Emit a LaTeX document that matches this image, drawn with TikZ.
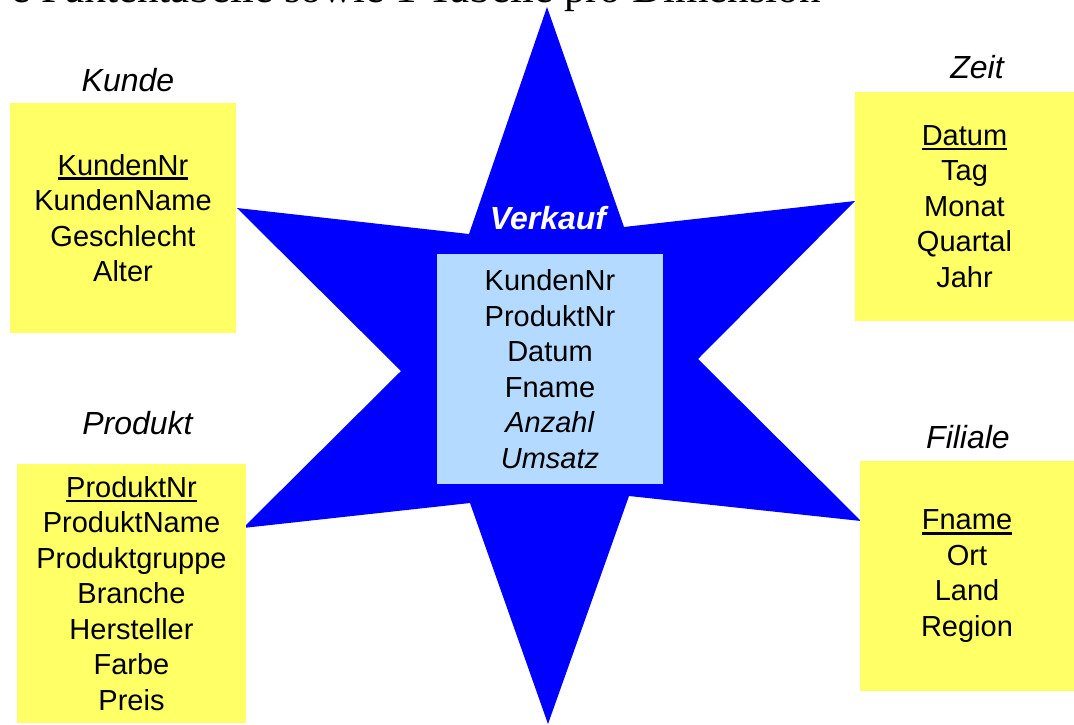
\documentclass[tikz,border=0pt]{standalone}
\usepackage{fontspec}
\setmainfont{Liberation Sans}
\newfontfamily\headserif{Liberation Serif}
\definecolor{starblue}{RGB}{0,0,255}
\definecolor{dimyellow}{RGB}{255,255,102}
\definecolor{factblue}{RGB}{180,218,255}
% key attribute, thick underline
\newcommand{\pkey}[1]{\setbox0\hbox{#1}\rlap{\rule[-5pt]{\wd0}{2.7pt}}\box0}

\begin{document}
\begin{tikzpicture}[x=1pt,y=-1pt,
  dimtab/.style={fill=dimyellow, inner sep=0pt, align=center, font=\fontsize{29}{35.5}\selectfont},
  facttab/.style={dimtab, fill=factblue},
  tabtitle/.style={font=\fontsize{32}{38}\selectfont\itshape}]
\useasboundingbox (0,0) rectangle (1074,724);
\clip (0,0) rectangle (1074,724);
\node[anchor=base east, inner sep=0pt, font=\headserif\fontsize{43}{43}\selectfont] (heading) at (821,2) {e Faktentabelle sowie 1 Tabelle pro Dimension};
% star
\fill[starblue] (547,7) -- (624,227) -- (855,201) -- (698,359) -- (861,521) -- (629,496)
  -- (548,724) -- (470,503) -- (243,528) -- (401,371) -- (237,208) -- (469,234) -- cycle;
\node[facttab, minimum width=226pt, minimum height=230pt] (verkauf) at (550,369)
  {KundenNr\\ProduktNr\\Datum\\Fname\\\textit{Anzahl}\\\textit{Umsatz}};
\node[tabtitle, font=\fontsize{32}{38}\selectfont\bfseries\itshape, text=white] (verkaufT) at (548,218) {Verkauf};
% dimensions
\node[dimtab, minimum width=226pt, minimum height=230pt] (kunde) at (123,218)
  {\pkey{KundenNr}\\KundenName\\Geschlecht\\Alter};
\node[tabtitle] (kundeT) at (128,80) {Kunde};
\node[dimtab, minimum width=219pt, minimum height=229pt] (zeit) at (964.5,206.5)
  {\pkey{Datum}\\Tag\\Monat\\Quartal\\Jahr};
\node[tabtitle] (zeitT) at (977,67) {Zeit};
\node[dimtab, minimum width=229pt, minimum height=259pt] (produkt) at (131.5,593.5)
  {\pkey{ProduktNr}\\ProduktName\\Produktgruppe\\Branche\\Hersteller\\Farbe\\Preis};
\node[tabtitle] (produktT) at (137.5,423) {Produkt};
\node[dimtab, minimum width=214pt, minimum height=230pt] (filiale) at (967,576)
  {\pkey{Fname}\\Ort\\Land\\Region};
\node[tabtitle] (filialeT) at (968,437) {Filiale};
\end{tikzpicture}
\end{document}
